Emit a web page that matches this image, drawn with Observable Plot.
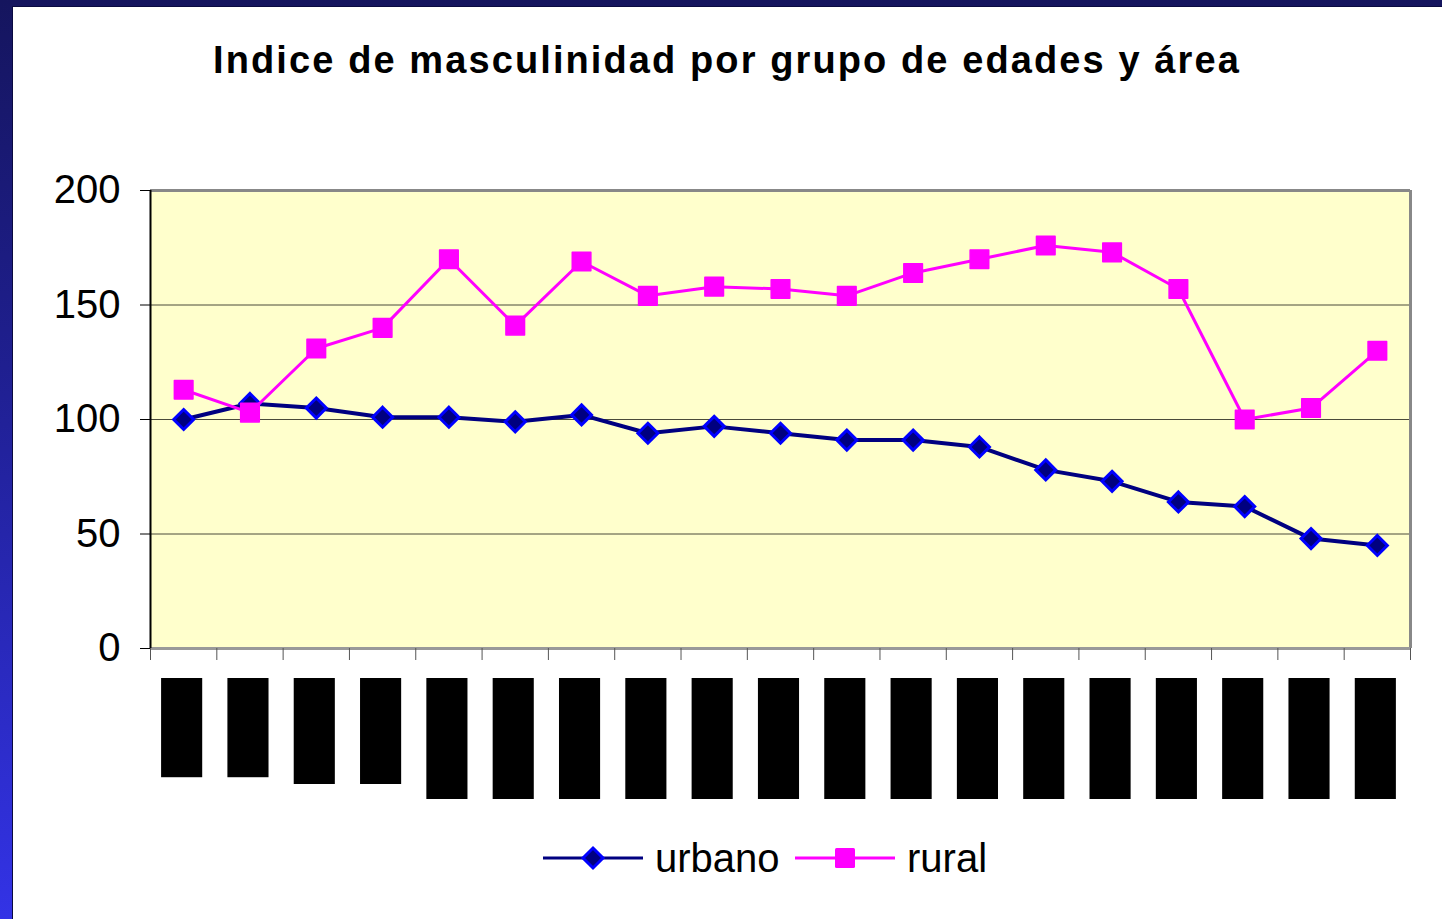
<!DOCTYPE html>
<html>
<head>
<meta charset="utf-8">
<script src="https://cdn.jsdelivr.net/npm/d3@7"></script>
<script src="https://cdn.jsdelivr.net/npm/@observablehq/plot@0.6"></script>
<style>
  html, body { margin: 0; padding: 0; }
  body {
    width: 1442px; height: 919px; overflow: hidden; position: relative;
    background: linear-gradient(to bottom, #15155e 0%, #1f1f90 40%, #3333e6 100%);
    font-family: "Liberation Sans", Arial, sans-serif;
  }
  #panel { position: absolute; left: 12px; top: 6px; right: 0; bottom: 0; background: #fff;
           box-shadow: inset 1px 1px 0 #0a0a40; }
  #title { position: absolute; left: 12px; top: 38px; width: 1430px; text-align: center;
           font-weight: bold; font-size: 38px; line-height: 44px; letter-spacing: 2.1px; color: #000; }
  #main { position: absolute; left: 12px; top: 100px; }
  #labels { position: absolute; left: 12px; top: 668px; }
  #legend { position: absolute; left: 0px; top: 820px; }
</style>
</head>
<body>
<div id="panel"></div>
<div id="title">Indice de masculinidad por grupo de edades y área</div>
<div id="main"></div>
<div id="labels"></div>
<div id="legend"></div>
<script>
// ---- data ----
const ageGroups = ["0 - 4","5 - 9","10 - 14","15 - 19","20 - 24","25 - 29","30 - 34","35 - 39","40 - 44","45 - 49",
                   "50 - 54","55 - 59","60 - 64","65 - 69","70 - 74","75 - 79","80 - 84","85 - 89","90 y más"];
const urbano = [100, 107, 105, 101, 101, 99, 102, 94, 97, 94, 91, 91, 88, 78, 73, 64, 62, 48, 45];
const rural  = [113, 103, 131, 140, 170, 141, 169, 154, 158, 157, 154, 164, 170, 176, 173, 157, 100, 105, 130];
// relative length of the (obscured) category label boxes
const labelLength = [0.82, 0.82, 0.876, 0.876, 1, 1, 1, 1, 1, 1, 1, 1, 1, 1, 1, 1, 1, 1, 1];
const yTicks = [0, 50, 100, 150, 200];
const seriesNames = ["urbano", "rural"];

const urbanRows = ageGroups.map((g, i) => ({i: i + 0.5, g, v: urbano[i]}));
const ruralRows = ageGroups.map((g, i) => ({i: i + 0.5, g, v: rural[i]}));
const boundaries = d3.range(ageGroups.length + 1);

const navy = "#000080", blue = "#0000FF", magenta = "#FF00FF";

const main = Plot.plot({
  width: 1430, height: 568,
  marginLeft: 138, marginRight: 32, marginTop: 90, marginBottom: 20,
  style: {fontFamily: "'Liberation Sans', Arial, sans-serif", fontSize: "40px", color: "#000", background: "transparent", overflow: "visible"},
  x: {type: "linear", domain: [0, ageGroups.length], axis: null},
  y: {domain: [0, 200], axis: null},
  marks: [
    Plot.frame({fill: "#FFFFCC", stroke: "none"}),
    Plot.ruleY([50, 100, 150], {stroke: "#4a4a3a", strokeWidth: 1}),
    Plot.ruleY([200], {stroke: "#888", strokeWidth: 3}),
    Plot.ruleX([ageGroups.length], {stroke: "#888", strokeWidth: 3}),
    Plot.ruleY([0], {stroke: "#999", strokeWidth: 3}),
    Plot.ruleX([0], {stroke: "#000", strokeWidth: 2}),
    Plot.axisY({ticks: yTicks, tickSize: 10, tickPadding: 20, label: null, stroke: "#000", fontSize: 40}),
    Plot.axisX({ticks: boundaries, tickSize: 12, tickFormat: () => "", label: null, stroke: "#555"}),
    Plot.line(urbanRows, {x: "i", y: "v", stroke: navy, strokeWidth: 4}),
    Plot.dot(urbanRows, {x: "i", y: "v", symbol: "diamond2", r: 9, fill: navy, stroke: blue, strokeWidth: 3}),
    Plot.line(ruralRows, {x: "i", y: "v", stroke: magenta, strokeWidth: 3}),
    Plot.dot(ruralRows, {x: "i", y: "v", symbol: "square", r: 10.5, fill: magenta, stroke: magenta, strokeWidth: 1.5, strokeLinejoin: "round"})
  ]
});
document.getElementById("main").appendChild(main);

// Category label strip (labels appear as solid black blocks in the reference)
const labelRows = ageGroups.map((g, i) => ({g, len: labelLength[i]}));
const labels = Plot.plot({
  width: 1430, height: 140,
  marginLeft: 138, marginRight: 32, marginTop: 10, marginBottom: 9,
  style: {background: "transparent"},
  x: {domain: ageGroups, paddingInner: 0.38, paddingOuter: 0.19, align: 0.44, round: false, axis: null},
  y: {domain: [0, 1], reverse: true, axis: null},
  marks: [
    Plot.barY(labelRows, {x: "g", y1: 0, y2: "len", fill: "#000", title: "g"})
  ]
});
document.getElementById("labels").appendChild(labels);

// Legend
const lg = d3.create("svg").attr("width", 1100).attr("height", 80)
  .style("font-family", "'Liberation Sans', Arial, sans-serif");
const items = [
  {name: seriesNames[0], x0: 543, color: navy, sym: "diamond"},
  {name: seriesNames[1], x0: 795, color: magenta, sym: "square"}
];
const cy = 38;
for (const it of items) {
  lg.append("line").attr("x1", it.x0).attr("x2", it.x0 + 100).attr("y1", cy).attr("y2", cy)
    .attr("stroke", it.color).attr("stroke-width", 3);
  const cx = it.x0 + 50;
  if (it.sym === "diamond") {
    lg.append("path").attr("d", `M${cx},${cy-10}L${cx+10},${cy}L${cx},${cy+10}L${cx-10},${cy}Z`)
      .attr("fill", navy).attr("stroke", blue).attr("stroke-width", 3);
  } else {
    lg.append("rect").attr("x", cx - 10).attr("y", cy - 10).attr("width", 20).attr("height", 20)
      .attr("rx", 1.5).attr("fill", magenta);
  }
  lg.append("text").attr("x", it.x0 + 112).attr("y", cy + 14).attr("font-size", 40).attr("fill", "#000").text(it.name);
}
document.getElementById("legend").appendChild(lg.node());
</script>
</body>
</html>
